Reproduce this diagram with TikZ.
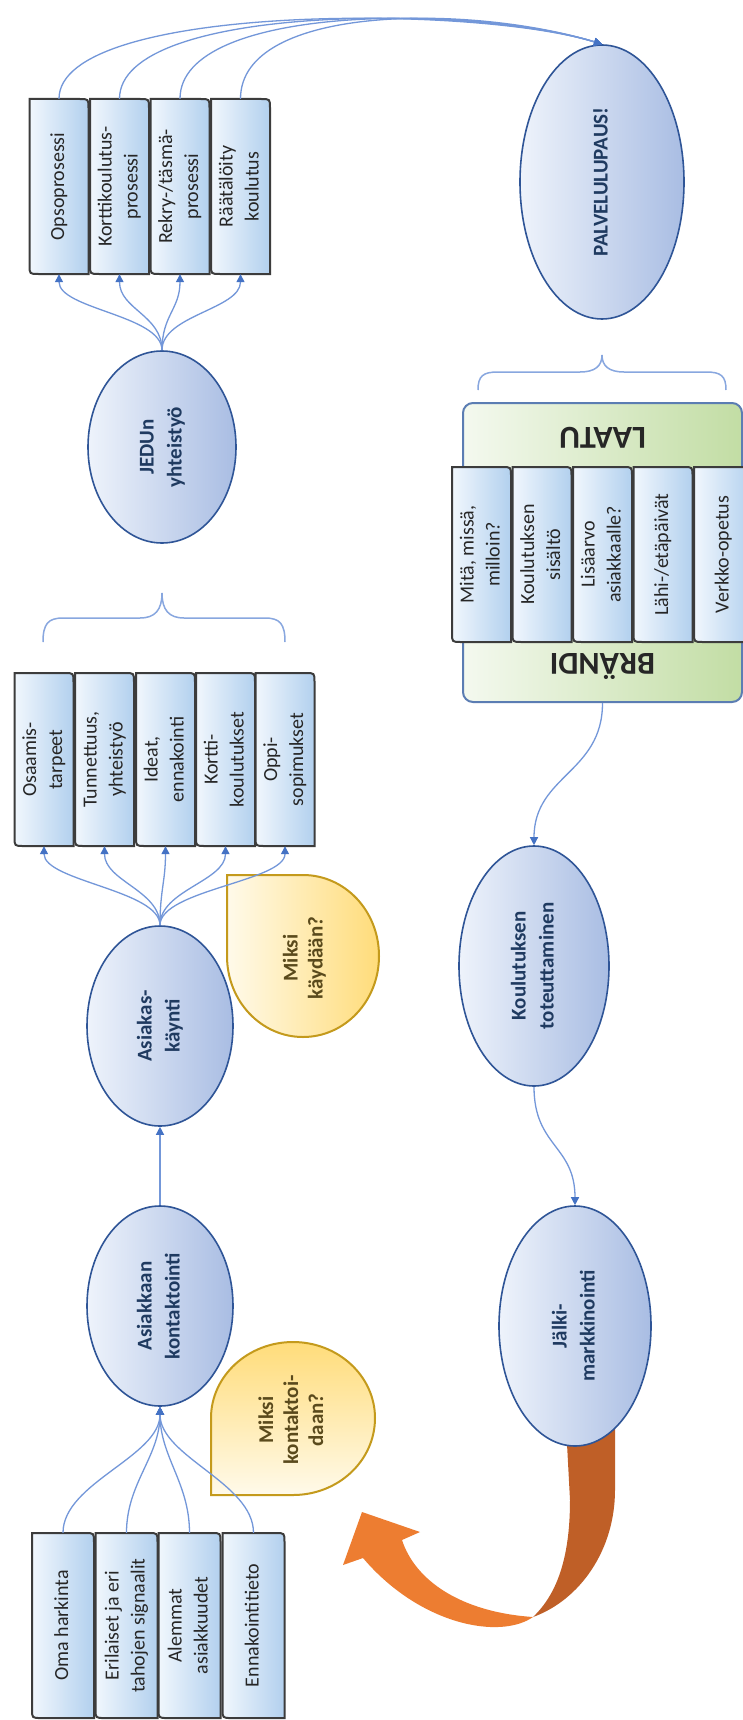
\documentclass[tikz,border=0pt]{standalone}
\usepackage{fontspec}
\setmainfont{Carlito}
\usepackage{graphicx}
\usetikzlibrary{shapes.geometric,arrows.meta}

\definecolor{ellL}{HTML}{EEF3FB}
\definecolor{ellR}{HTML}{A9BDE3}
\definecolor{ellLine}{HTML}{2F5597}
\definecolor{ellText}{HTML}{1F3A60}
\definecolor{boxL}{HTML}{F1F7FD}
\definecolor{boxR}{HTML}{B2D0EE}
\definecolor{boxLine}{HTML}{3C3C3C}
\definecolor{boxText}{HTML}{262626}
\definecolor{grnL}{HTML}{F4F9EF}
\definecolor{grnR}{HTML}{C2DDA4}
\definecolor{grnLine}{HTML}{5B7DB3}
\definecolor{ylwL}{HTML}{FFFAEA}
\definecolor{ylwR}{HTML}{FFDC7A}
\definecolor{ylwLine}{HTML}{C49A1C}
\definecolor{ylwText}{HTML}{5A4A1C}
\definecolor{connC}{HTML}{7397D9}
\definecolor{connTip}{HTML}{4472C4}
\definecolor{orgL}{HTML}{ED7D31}
\definecolor{orgD}{HTML}{BF5F27}

% vertical (bottom-to-top) multi-line text
\newcommand{\vtext}[1]{\rotatebox{90}{\begin{tabular}{@{}c@{}}#1\end{tabular}}}

% process box: name, x, y, width, height, text
\newcommand{\procbox}[6]{%
  \begin{scope}[shift={(#2,#3)}]
    \path[draw=boxLine, line width=2pt, left color=boxL, right color=boxR]
      ({-#4/2},{-#5/2}) -- ({#4/2-9},{-#5/2}) .. controls ({#4/2},{-#5/2}) .. ({#4/2},{-#5/2+9})
      -- ({#4/2},{#5/2}) -- ({-#4/2+9},{#5/2}) .. controls ({-#4/2},{#5/2}) .. ({-#4/2},{#5/2-9}) -- cycle;
  \end{scope}
  \node[boxtxt, minimum width=#4pt, minimum height=#5pt] (#1) at (#2,#3) {\vtext{#6}};
}

\tikzset{
  ell/.style={ellipse, draw=ellLine, line width=1.6pt, left color=ellL, right color=ellR,
    inner sep=0pt, text=ellText, font=\fontsize{21}{28}\selectfont\bfseries},
  boxtxt/.style={inner sep=0pt, text=boxText, font=\fontsize{20}{26}\selectfont},
  conn/.style={draw=connC, line width=1.3pt, -{Triangle[length=8pt,width=8pt,color=connTip]}},
  brc/.style={draw=connC!85, line width=1.5pt},
  tear/.style={draw=ylwLine, line width=2pt},
  teartxt/.style={inner sep=0pt, text=ylwText, font=\fontsize{21}{25}\selectfont\bfseries},
  grn/.style={draw=grnLine, line width=2pt, rounded corners=10pt, left color=grnL, right color=grnR},
  lbl/.style={inner sep=0pt, font=\fontsize{32}{36}\selectfont\bfseries, text=black!85},
}

\begin{document}
\begin{tikzpicture}[x=1pt,y=-1pt]
\useasboundingbox (0,0) rectangle (743,1720);
\fill[white] (0,0) rectangle (743,1720);

% braces
\draw[brc] (43,642) .. controls (43,624) and (48,618) .. (63,618) -- (140,618)
  .. controls (155,618) and (162,610) .. (162,593)
  .. controls (162,610) and (169,618) .. (184,618) -- (265,618)
  .. controls (280,618) and (285,624) .. (285,642);
\draw[brc] (478,390) .. controls (478,376) and (483,372) .. (498,372) -- (580,372)
  .. controls (595,372) and (602,366) .. (602,355)
  .. controls (602,366) and (609,372) .. (624,372) -- (706,372)
  .. controls (721,372) and (726,376) .. (726,390);

% brand / quality frame
\node[grn, minimum width=279pt, minimum height=299pt] (brand) at (602.5,552.5) {};
\node[lbl, rotate=180] (laatu) at (602.5,438) {LAATU};
\node[lbl, rotate=180] (brandi) at (602.5,667) {BRÄNDI};
\procbox{g1}{481.5}{554.5}{59}{175}{Mitä, missä,\\milloin?}
\procbox{g2}{542}{554.5}{59}{175}{Koulutuksen\\sisältö}
\procbox{g3}{602.5}{554.5}{59}{175}{Lisäarvo\\asiakkaalle?}
\procbox{g4}{663}{554.5}{59}{175}{Lähi-/etäpäivät}
\procbox{g5}{723.5}{554.5}{59}{175}{Verkko-opetus}

% process boxes
\procbox{p1}{59}{186.5}{59}{175}{Opsoprosessi}
\procbox{p2}{119.5}{186.5}{59}{175}{Korttikoulutus-\\prosessi}
\procbox{p3}{180}{186.5}{59}{175}{Rekry-/täsmä-\\prosessi}
\procbox{p4}{240.5}{186.5}{59}{175}{Räätälöity\\koulutus}

\procbox{o1}{44}{759.5}{59}{173}{Osaamis-\\tarpeet}
\procbox{o2}{104.5}{759.5}{59}{173}{Tunnettuus,\\yhteistyö}
\procbox{o3}{165.5}{759.5}{59}{173}{Ideat,\\ennakointi}
\procbox{o4}{225.5}{759.5}{59}{173}{Kortti-\\koulutukset}
\procbox{o5}{285}{759.5}{59}{173}{Oppi-\\sopimukset}

\procbox{s1}{63}{1625.5}{62}{185}{Oma harkinta}
\procbox{s2}{126.5}{1625.5}{62}{185}{Erilaiset ja eri\\tahojen signaalit}
\procbox{s3}{189.5}{1625.5}{62}{185}{Alemmat\\asiakkuudet}
\procbox{s4}{253.5}{1625.5}{62}{185}{Ennakointitieto}

% question drops
\path[tear, left color=ylwL, right color=ylwR]
  (227,875) -- (303,875) .. controls (345,875) and (379,911) .. (379,956)
  .. controls (379,1001) and (345,1037) .. (303,1037)
  .. controls (261,1037) and (227,1001) .. (227,956) -- cycle;
\node[teartxt] (kayq) at (305,958) {\vtext{Miksi\\käydään?}};
\path[tear, top color=ylwR, bottom color=ylwL]
  (211,1495) -- (211,1418) .. controls (211,1376) and (248,1342) .. (293,1342)
  .. controls (338,1342) and (375,1376) .. (375,1418)
  .. controls (375,1461) and (338,1495) .. (293,1495) -- cycle;
\node[teartxt] (konq) at (293,1420) {\vtext{Miksi\\kontaktoi-\\daan?}};

% curved return arrow
\fill[orgD] (566,1425) -- (615,1425) -- (615,1490)
  .. controls (615,1550) and (580,1600) .. (533,1617)
  .. controls (556,1595) and (570,1560) .. (570,1500) -- cycle;
\fill[orgL] (362,1512) -- (420,1532) -- (402,1540)
  .. controls (415,1580) and (460,1612) .. (533,1617)
  .. controls (500,1640) and (420,1625) .. (363,1558) -- (343,1565) -- cycle;

% stages
\node[ell, minimum width=148pt, minimum height=192pt] (jedu) at (162,447) {\vtext{JEDUn\\yhteistyö}};
\node[ell, minimum width=164pt, minimum height=274pt] (pal) at (602,182) {\vtext{PALVELULUPAUS!}};
\node[ell, minimum width=146pt, minimum height=200pt] (kay) at (160,1026) {\vtext{Asiakas-\\käynti}};
\node[ell, minimum width=146pt, minimum height=200pt] (kon) at (160,1306) {\vtext{Asiakkaan\\kontaktointi}};
\node[ell, minimum width=150pt, minimum height=240pt] (koul) at (534,966) {\vtext{Koulutuksen\\toteuttaminen}};
\node[ell, minimum width=152pt, minimum height=240pt] (jalki) at (575,1326) {\vtext{Jälki-\\markkinointi}};

% connectors
\foreach \b in {p1,p2,p3,p4}
  \draw[conn] (jedu.north) .. controls +(0,-35) and +(0,35) .. (\b.south);
\foreach \b in {p1,p2,p3,p4}
  \draw[conn] (\b.north) .. controls +(0,-95) and +(-130,-40) .. (pal.north);
\foreach \b in {o1,o2,o3,o4,o5}
  \draw[conn] (kay.north) .. controls +(0,-35) and +(0,35) .. (\b.south);
\foreach \b in {s1,s2,s3,s4}
  \draw[conn] (\b.north) .. controls +(0,-50) and +(0,50) .. (kon.south);
\draw[conn] (kon.north) -- (kay.south);
\draw[conn] (brand.south) .. controls +(0,70) and +(0,-70) .. (koul.north);
\draw[conn] (koul.south) .. controls +(0,60) and +(0,-60) .. (jalki.north);
\end{tikzpicture}
\end{document}
